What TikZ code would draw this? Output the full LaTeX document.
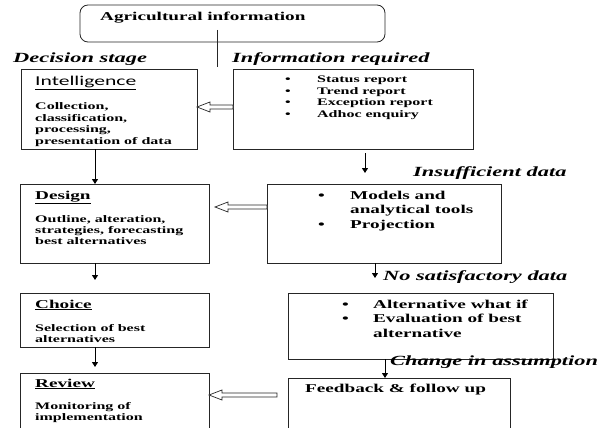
\documentclass[tikz,border=0pt]{standalone}
\usepackage{fontspec}
\setmainfont[FakeStretch=1.6]{Liberation Serif}
\newfontfamily\calib[FakeStretch=1.6]{Carlito}
\usetikzlibrary{arrows.meta,calc}

\tikzset{
  box/.style={draw=black!85, line width=0.8pt, anchor=north west, inner sep=0pt, outer sep=0pt},
  txt/.style={anchor=base west, inner sep=0pt, font=\bfseries\fontsize{10}{11.4}\selectfont},
  bigtxt/.style={anchor=base west, inner sep=0pt, font=\bfseries\fontsize{12}{14.5}\selectfont},
  lbl/.style={anchor=base west, inner sep=0pt, font=\bfseries\itshape\fontsize{14}{16}\selectfont},
  down/.style={draw=black, line width=1pt, -{Triangle[width=6pt,length=5pt]}},
  hollow/.style={draw=black!85, line width=0.7pt, fill=white},
}
\newcommand{\hollowarrow}[2]{%
  \draw[hollow] let \p1=(#1), \p2=(#2) in
    (\x1,\y1+2pt) -- (\x2+13pt,\y1+2pt) -- (\x2+13pt,\y1+5pt) -- (\x2,\y1)
    -- (\x2+13pt,\y1-5pt) -- (\x2+13pt,\y1-2pt) -- (\x1,\y1-2pt) -- cycle;}

\begin{document}
\begin{tikzpicture}[x=1pt,y=-1pt]
\useasboundingbox (0,0) rectangle (603,428);
\fill[white] (0,0) rectangle (603,428);
\clip (0,0) rectangle (603,428);

% top box
\node[box, rounded corners=8pt, minimum width=305pt, minimum height=37pt] (agri) at (80,5) {};
\node[bigtxt] (agriT) at (100,21) {Agricultural information};
\coordinate (lineTop) at ($(agri.south west)+(137,-12)$);
\coordinate (lineEnd) at (217,67);
\draw[draw=black!85, line width=0.8pt] (lineTop) -- (lineEnd);

% column labels
\node[lbl] (decT) at (13,63) {Decision stage};
\node[lbl] (infT) at (232,63) {Information required};

% boxes
\node[box, minimum width=176pt, minimum height=80pt] (intel) at (21,69) {};
\node[box, minimum width=240pt, minimum height=80pt] (info) at (233,69) {};
\node[box, minimum width=189pt, minimum height=79pt] (design) at (20,184) {};
\node[box, minimum width=234pt, minimum height=79pt] (models) at (267,184) {};
\node[box, minimum width=189pt, minimum height=54pt] (choice) at (20,293) {};
\node[box, minimum width=265pt, minimum height=66pt] (alt) at (288,293) {};
\node[box, minimum width=189pt, minimum height=80pt] (review) at (20,373) {};
\node[box, minimum width=222pt, minimum height=80pt] (feed) at (288,378) {};

% texts left column
\node[anchor=base west, inner sep=0pt, font=\calib\fontsize{13.5}{15}\selectfont] (intelH) at (35,85) {\underline{Intelligence}};
\node[txt] (intelT) at (35,110) {\begin{tabular}[t]{@{}l@{}}Collection,\\classification,\\processing,\\presentation of data\end{tabular}};
\node[bigtxt] (designH) at (35,199) {\underline{Design}};
\node[txt] (designT) at (35,222) {\begin{tabular}[t]{@{}l@{}}Outline, alteration,\\strategies, forecasting\\best alternatives\end{tabular}};
\node[bigtxt] (choiceH) at (35,308) {\underline{Choice}};
\node[txt] (choiceT) at (35,331) {\begin{tabular}[t]{@{}l@{}}Selection of best\\alternatives\end{tabular}};
\node[bigtxt] (reviewH) at (35,387) {\underline{Review}};
\node[txt] (reviewT) at (35,409) {\begin{tabular}[t]{@{}l@{}}Monitoring of\\implementation\end{tabular}};

% texts right column
\node[txt] (infoT) at (285,83) {\begin{tabular}[t]{@{}p{32pt}@{}l@{}}\textbullet & Status report\\\textbullet & Trend report\\\textbullet & Exception report\\\textbullet & Adhoc enquiry\end{tabular}};
\node[bigtxt] (modelsT) at (318,199) {\begin{tabular}[t]{@{}p{32pt}@{}l@{}}\textbullet & Models and\\ & analytical tools\\\textbullet & Projection\end{tabular}};
\node[bigtxt] (altT) at (342,308) {\begin{tabular}[t]{@{}p{31pt}@{}l@{}}\textbullet & Alternative what if\\\textbullet & Evaluation of best\\ & alternative\end{tabular}};
\node[bigtxt] (feedT) at (305,392) {Feedback \& follow up};

% labels between right boxes
\node[lbl] (insT) at (413,176) {Insufficient data};
\node[lbl] (noT) at (383,280) {No satisfactory data};
\node[lbl] (chT) at (390,365) {Change in assumption};

% down arrows left
\coordinate (dc) at (95,280);
\coordinate (cr) at (95,367);
\draw[down] ($(intel.south west)+(74,0)$) -- ($(design.north west)+(75,0)$);
\draw[down] ($(design.south west)+(75,0)$) -- (dc);
\draw[down] ($(choice.south west)+(75,0)$) -- (cr);

% down arrows right
\coordinate (im1) at (365,153);
\coordinate (im2) at (365,173);
\coordinate (ma2) at (375,278);
\draw[down] (im1) -- (im2);
\draw[down] ($(models.south west)+(108,0)$) -- (ma2);
\draw[down] ($(alt.south west)+(97,0)$) -- ($(feed.north west)+(97,0)$);

% hollow arrows
\coordinate (h1tail) at ($(info.north west)+(0,38)$);
\coordinate (h1tip) at ($(intel.north east)+(0,38)$);
\hollowarrow{h1tail}{h1tip}
\coordinate (h2tail) at ($(models.north west)+(0,23)$);
\coordinate (h2tip) at (215,207);
\hollowarrow{h2tail}{h2tip}
\coordinate (h3tail) at (277,395);
\coordinate (h3tip) at ($(review.north east)+(0,22)$);
\hollowarrow{h3tail}{h3tip}
\end{tikzpicture}
\end{document}
